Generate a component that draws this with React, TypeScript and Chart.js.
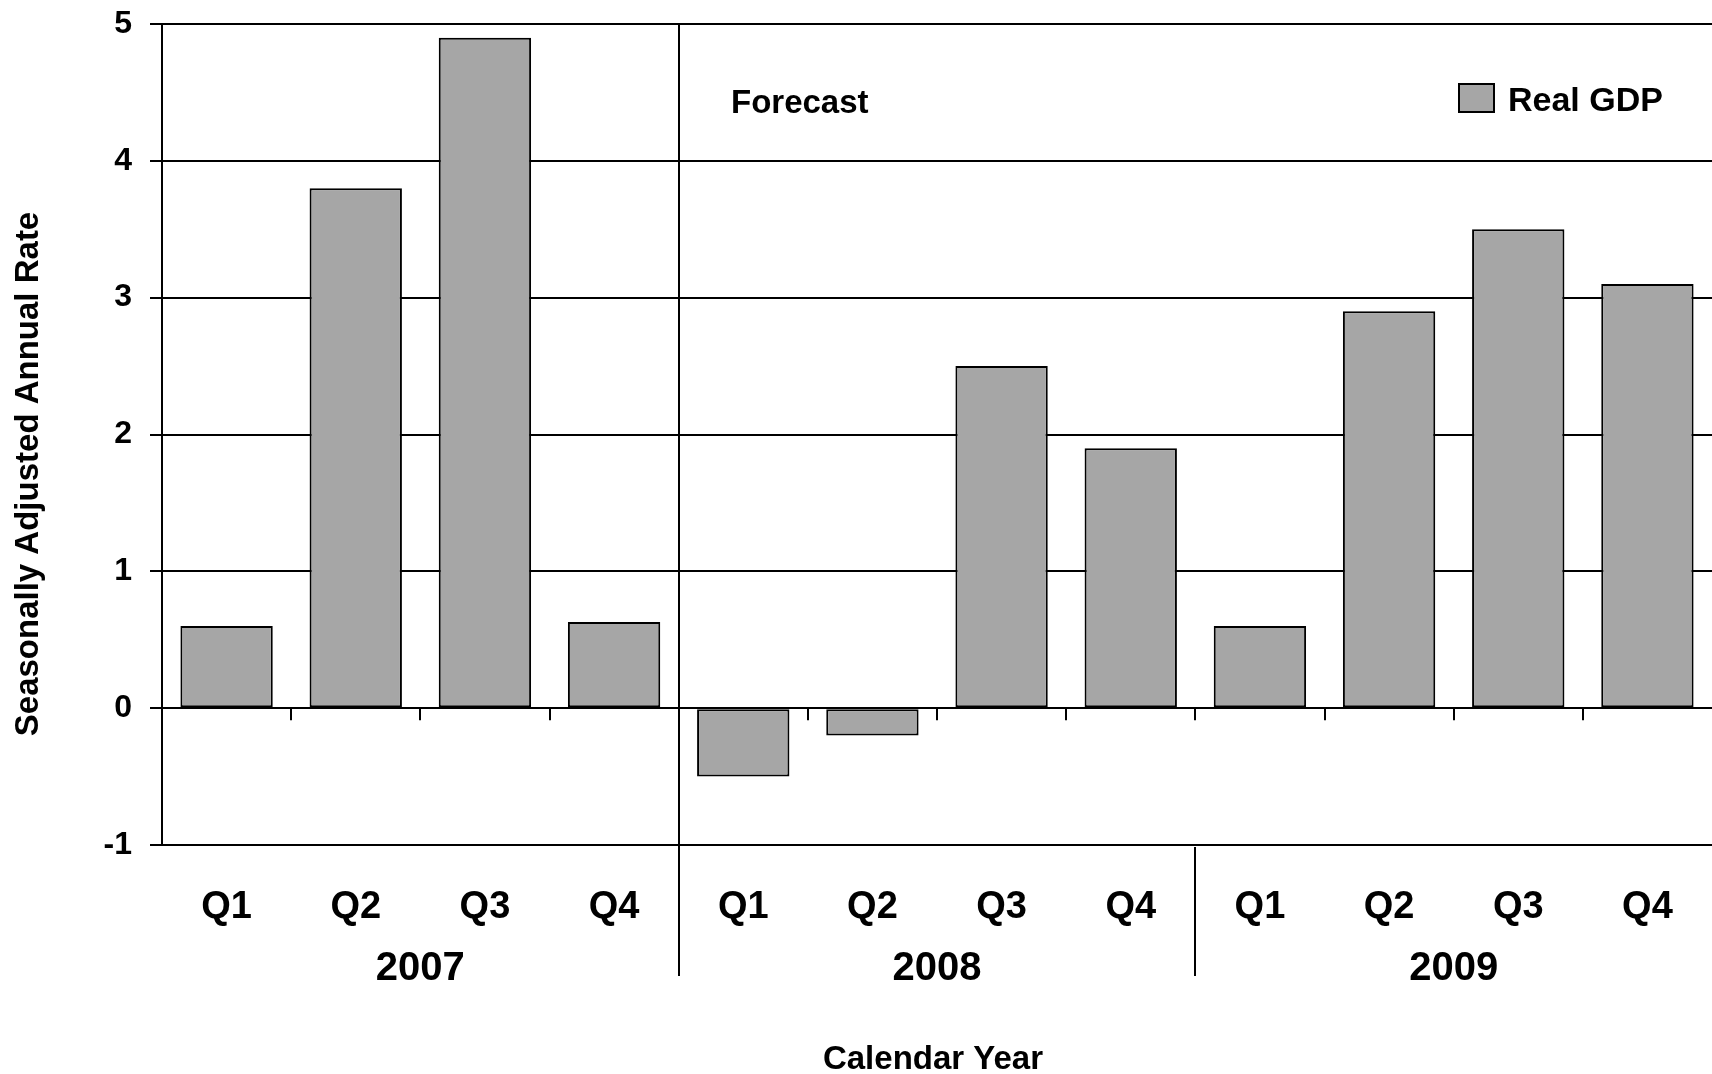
import React, { useEffect, useRef } from "react";
import { Chart, registerables } from "chart.js";

Chart.register(...registerables);

const quarters = ["Q1", "Q2", "Q3", "Q4", "Q1", "Q2", "Q3", "Q4", "Q1", "Q2", "Q3", "Q4"];
const years = ["2007", "2008", "2009"];
const realGdp = [0.6, 3.8, 4.9, 0.63, -0.5, -0.2, 2.5, 1.9, 0.6, 2.9, 3.5, 3.1];
const seriesLabel = "Real GDP";
const forecastLabel = "Forecast";
const yTitle = "Seasonally Adjusted Annual Rate";
const xTitle = "Calendar Year";
const yMin = -1;
const yMax = 5;

const FONT = '"Liberation Sans", Arial, sans-serif';
const BAR_FILL = "#A6A6A6";

const overlay = {
  id: "overlay",
  afterDraw(chart: any) {
    const { ctx, chartArea, scales } = chart;
    const xs = scales.x;
    const ys = scales.y;
    const y0 = ys.getPixelForValue(0);
    const boundary = (i: number) => (xs.getPixelForValue(i - 1) + xs.getPixelForValue(i)) / 2;
    const line = (x1: number, y1: number, x2: number, y2: number) => {
      ctx.beginPath();
      ctx.moveTo(x1, y1);
      ctx.lineTo(x2, y2);
      ctx.stroke();
    };
    ctx.save();
    ctx.strokeStyle = "#000";
    ctx.lineWidth = 2;
    for (let i = 1; i < quarters.length; i++) {
      const bx = Math.round(boundary(i));
      line(bx, y0, bx, y0 + 12);
    }
    const d1 = Math.round(boundary(4));
    line(d1, chartArea.top, d1, 976);
    const d2 = Math.round(boundary(8));
    line(d2, chartArea.bottom + 2, d2, 976);

    ctx.fillStyle = "#000";
    ctx.textBaseline = "middle";

    // year labels
    ctx.textAlign = "center";
    ctx.font = `bold 40px ${FONT}`;
    years.forEach((yr, gi) => {
      const cx = (xs.getPixelForValue(gi * 4) + xs.getPixelForValue(gi * 4 + 3)) / 2;
      ctx.fillText(yr, cx, 969);
    });

    // forecast label
    ctx.textAlign = "left";
    ctx.font = `bold 33px ${FONT}`;
    ctx.fillText(forecastLabel, d1 + 52, 104);

    // legend
    const ds = chart.data.datasets[0];
    ctx.fillStyle = ds.backgroundColor;
    ctx.fillRect(1459, 84, 35, 28);
    ctx.strokeRect(1459, 84, 35, 28);
    ctx.fillStyle = "#000";
    ctx.font = `bold 34px ${FONT}`;
    ctx.fillText(ds.label, 1508, 102);

    // axis titles
    ctx.textAlign = "center";
    ctx.font = `bold 33px ${FONT}`;
    ctx.fillText(xTitle, (chartArea.left + chartArea.right) / 2 - 4, 1060);
    ctx.save();
    ctx.translate(29, 474);
    ctx.rotate(-Math.PI / 2);
    ctx.fillText(yTitle, 0, 0);
    ctx.restore();

    ctx.restore();
  },
};

export default function App() {
  const ref = useRef<HTMLCanvasElement | null>(null);
  useEffect(() => {
    document.body.style.margin = "0";
    if (!ref.current) return;
    Chart.defaults.font.family = FONT;
    const chart = new Chart(ref.current, {
      type: "bar",
      data: {
        labels: quarters,
        datasets: [
          {
            label: seriesLabel,
            data: realGdp,
            backgroundColor: BAR_FILL,
            borderColor: "#000",
            borderWidth: 2,
            borderSkipped: false,
            barPercentage: 0.715,
            categoryPercentage: 1,
          },
        ],
      },
      options: {
        animation: false,
        responsive: false,
        maintainAspectRatio: false,
        layout: { padding: { top: 24, right: 0, left: 0, bottom: 0 } },
        plugins: { legend: { display: false }, tooltip: { enabled: false } },
        scales: {
          x: {
            type: "category",
            offset: true,
            grid: { display: false },
            border: { display: false },
            ticks: {
              color: "#000",
              font: { size: 38, weight: "bold", family: FONT },
              padding: 32,
              maxRotation: 0,
              autoSkip: false,
            },
            afterFit: (scale: any) => {
              scale.height = 229;
              scale.paddingLeft = 0;
              scale.paddingRight = 0;
            },
          },
          y: {
            min: yMin,
            max: yMax,
            ticks: {
              stepSize: 1,
              color: "#000",
              font: { size: 32, weight: "bold", family: FONT },
              padding: 18,
            },
            grid: { color: "#000", lineWidth: 2, tickLength: 12 },
            border: { display: true, color: "#000", width: 2 },
            afterFit: (scale: any) => {
              scale.width = 162;
              scale.paddingTop = 0;
              scale.paddingBottom = 0;
            },
          },
        },
      },
      plugins: [overlay],
    });
    return () => chart.destroy();
  }, []);
  return (
    <div style={{ width: 1712, height: 1074 }}>
      <canvas ref={ref} width={1712} height={1074} style={{ width: 1712, height: 1074, display: "block" }} />
    </div>
  );
}
